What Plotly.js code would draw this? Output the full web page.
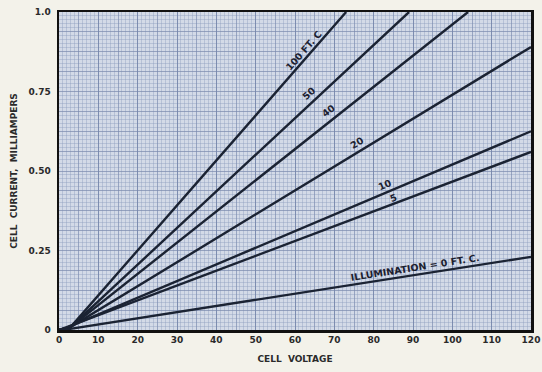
<!DOCTYPE html>
<html><head><meta charset="utf-8">
<script src="https://cdn.plot.ly/plotly-3.0.1.min.js"></script>
<style>html,body{margin:0;padding:0;background:#f3f2ea;}#chart{width:542px;height:372px;}</style>
</head><body><div id="chart"></div>
<script>
// Curve labels (illumination in foot-candles)
const curveLabels = ['100 FT. C', '50', '40', '20', '10', '5', 'ILLUMINATION = 0 FT. C.'];
// Cell voltage (V) and cell current (mA)
const volts100 = [0, 3, 73];   const amps100 = [0, 0.01, 1.0];
const volts50  = [0, 3, 89];   const amps50  = [0, 0.01, 1.0];
const volts40  = [0, 3, 104];  const amps40  = [0, 0.01, 1.0];
const volts20  = [0, 3, 120];  const amps20  = [0, 0.01, 0.89];
const volts10  = [0, 1, 120];  const amps10  = [0, 0.002, 0.625];
const volts5   = [0, 120];     const amps5   = [0, 0.56];
const volts0   = [0, 2, 120];  const amps0   = [0, 0.002, 0.23];
// Voltage where each label sits along its curve
const labelVolts = [63.5, 65, 70, 77, 83.7, 85.7, 90.7];
// Tick labels
const xTickVals = [0,10,20,30,40,50,60,70,80,90,100,110,120];
const yTickVals = [0, 0.25, 0.5, 0.75, 1.0];
const yTickText = ['0', '0.25', '0.50', '0.75', '1.0'];

const seriesV = [volts100, volts50, volts40, volts20, volts10, volts5, volts0];
const seriesI = [amps100, amps50, amps40, amps20, amps10, amps5, amps0];

// layout geometry
const M = {l: 59, r: 11, t: 12, b: 42};
const W = 542, H = 372;
const pw = W - M.l - M.r, ph = H - M.t - M.b;
const X0 = 0, X1 = 120, Y0 = 0, Y1 = 1.0;
const labelOffsets = [7, 9, 9, 9, 8, 6, 7];

const lineColor = '#1b2333';
const traces = seriesV.map((v, k) => ({
  x: v, y: seriesI[k], type: 'scatter', mode: 'lines',
  line: {color: lineColor, width: 2.4}, hoverinfo: 'skip', showlegend: false
}));

function interp(v, xs, ys) {
  for (let i = 0; i < xs.length - 1; i++) {
    if (v >= xs[i] && v <= xs[i+1]) {
      const t = (v - xs[i]) / (xs[i+1] - xs[i]);
      return ys[i] + t * (ys[i+1] - ys[i]);
    }
  }
  return ys[ys.length - 1];
}

const annFont = {family: 'DejaVu Sans, Arial, sans-serif', size: 9.5, color: '#1c2130', weight: 'bold'};
const annotations = curveLabels.map((txt, k) => {
  const xs = seriesV[k], ys = seriesI[k];
  const n = xs.length;
  const dxp = (xs[n-1] - xs[n-2]) / (X1 - X0) * pw;
  const dyp = (ys[n-1] - ys[n-2]) / (Y1 - Y0) * ph;
  const th = Math.atan2(dyp, dxp);
  const d = labelOffsets[k];
  const v = labelVolts[k];
  return {
    x: v, y: interp(v, xs, ys), xref: 'x', yref: 'y', text: '<b>' + txt + '</b>',
    showarrow: false, textangle: -th * 180 / Math.PI,
    xshift: -d * Math.sin(th), yshift: d * Math.cos(th), font: annFont
  };
});

// y grid at every 1/16 with labels only on quarters
const yGridVals = [], yGridText = [];
for (let i = 0; i <= 16; i++) {
  const val = i / 16;
  yGridVals.push(val);
  const idx = yTickVals.findIndex(t => Math.abs(t - val) < 1e-9);
  yGridText.push(idx >= 0 ? yTickText[idx] : '');
}

const tickFont = {family: 'DejaVu Sans, Arial, sans-serif', size: 9, color: '#2a2a2a', weight: 'bold'};
const layout = {
  width: W, height: H,
  margin: M,
  paper_bgcolor: '#f3f2ea',
  plot_bgcolor: '#d3dae7',
  showlegend: false,
  xaxis: {
    range: [X0, X1], tickmode: 'array', tickvals: xTickVals,
    ticks: '', showline: true, mirror: true, linewidth: 2.5, linecolor: '#111',
    showgrid: true, gridcolor: 'rgba(110,125,165,0.7)', gridwidth: 1,
    minor: {tickmode: 'linear', tick0: 0, dtick: 1, showgrid: true, gridcolor: 'rgba(140,155,190,0.4)', gridwidth: 1},
    tickfont: tickFont, zeroline: false, fixedrange: true,
    title: {text: '<b>CELL  VOLTAGE</b>', font: {family: 'DejaVu Sans, Arial, sans-serif', size: 9, color: '#2a2a2a'}, standoff: 12}
  },
  xaxis2: {
    overlaying: 'x', matches: 'x', range: [X0, X1], tickmode: 'linear', tick0: 0, dtick: 5,
    showticklabels: false, ticks: '', showgrid: true, gridcolor: 'rgba(120,135,172,0.5)', showline: false, zeroline: false
  },
  yaxis: {
    range: [Y0, Y1], tickmode: 'array', tickvals: yGridVals, ticktext: yGridText,
    ticks: '', showline: true, mirror: true, linewidth: 2.5, linecolor: '#111',
    showgrid: true, gridcolor: 'rgba(120,135,172,0.55)', gridwidth: 1,
    minor: {tickmode: 'linear', tick0: 0, dtick: 0.0125, showgrid: true, gridcolor: 'rgba(140,155,190,0.4)', gridwidth: 1},
    tickfont: tickFont, zeroline: false, fixedrange: true, ticklabelstandoff: 4,
    title: {text: '<b>CELL  CURRENT,  MILLIAMPERS</b>', font: {family: 'DejaVu Sans, Arial, sans-serif', size: 9, color: '#2a2a2a'}, standoff: 10}
  },
  annotations: annotations
};

traces.push({x: [X0, X1], y: [Y0, Y0], xaxis: 'x2', yaxis: 'y', mode: 'lines', line: {width: 0}, hoverinfo: 'skip', showlegend: false});

Plotly.newPlot('chart', traces, layout, {displayModeBar: false, staticPlot: true});
</script></body></html>
